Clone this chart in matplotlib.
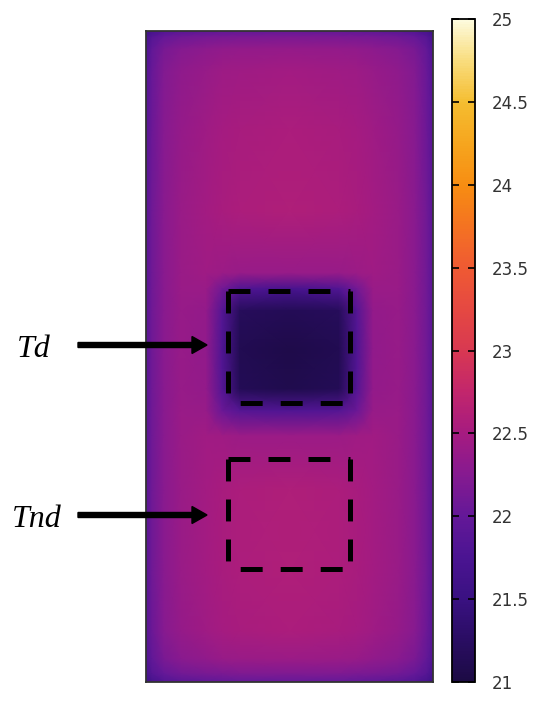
import numpy as np
import matplotlib
matplotlib.use("Agg")
import matplotlib.pyplot as plt
from matplotlib.colors import LinearSegmentedColormap
from matplotlib.patches import FancyArrow

plt.rcParams["lines.scale_dashes"] = False

# measurement grid over the sample (mm): left -> right, top -> bottom
x_nodes = [0, 0.6, 1.8, 3.5, 6.0, 7.6, 9.4, 14.35, 19.3, 21.1, 22.7, 25.2, 26.9, 28.1, 28.7]
y_nodes = [0, 0.6, 1.8, 4.0, 10.0, 18.0, 24.2, 25.8, 28.0, 31.8, 35.8, 38.0, 40.5,
           46.0, 54.0, 60.0, 62.8, 64.3, 65.1]

# temperature (deg C), one row per y node
temp = [
    [21.55, 21.68, 21.82, 21.90, 21.95, 21.97, 21.99, 22.00, 21.99, 21.97, 21.95, 21.90, 21.82, 21.68, 21.55],
    [21.68, 21.85, 22.00, 22.08, 22.13, 22.15, 22.17, 22.18, 22.17, 22.15, 22.13, 22.08, 22.00, 21.85, 21.68],
    [21.78, 21.97, 22.15, 22.24, 22.30, 22.33, 22.35, 22.37, 22.35, 22.33, 22.30, 22.24, 22.15, 21.97, 21.78],
    [21.83, 22.03, 22.22, 22.32, 22.39, 22.43, 22.45, 22.48, 22.45, 22.43, 22.39, 22.32, 22.22, 22.03, 21.83],
    [21.86, 22.06, 22.26, 22.37, 22.45, 22.49, 22.52, 22.55, 22.52, 22.49, 22.45, 22.37, 22.26, 22.06, 21.86],
    [21.88, 22.08, 22.28, 22.40, 22.48, 22.52, 22.55, 22.58, 22.55, 22.52, 22.48, 22.40, 22.28, 22.08, 21.88],
    [21.88, 22.08, 22.28, 22.40, 22.45, 22.42, 22.38, 22.38, 22.38, 22.42, 22.45, 22.40, 22.28, 22.08, 21.88],
    [21.88, 22.08, 22.28, 22.40, 22.40, 22.10, 21.80, 21.70, 21.80, 22.10, 22.40, 22.40, 22.28, 22.08, 21.88],
    [21.88, 22.08, 22.28, 22.39, 22.35, 21.85, 21.20, 21.15, 21.20, 21.85, 22.35, 22.39, 22.28, 22.08, 21.88],
    [21.88, 22.08, 22.28, 22.39, 22.33, 21.80, 21.12, 21.05, 21.12, 21.80, 22.33, 22.39, 22.28, 22.08, 21.88],
    [21.88, 22.08, 22.28, 22.39, 22.35, 21.85, 21.15, 21.08, 21.15, 21.85, 22.35, 22.39, 22.28, 22.08, 21.88],
    [21.88, 22.08, 22.28, 22.40, 22.38, 22.05, 21.85, 21.80, 21.85, 22.05, 22.38, 22.40, 22.28, 22.08, 21.88],
    [21.88, 22.08, 22.28, 22.40, 22.46, 22.45, 22.42, 22.42, 22.42, 22.45, 22.46, 22.40, 22.28, 22.08, 21.88],
    [21.88, 22.08, 22.28, 22.40, 22.48, 22.52, 22.55, 22.58, 22.55, 22.52, 22.48, 22.40, 22.28, 22.08, 21.88],
    [21.88, 22.08, 22.28, 22.40, 22.48, 22.52, 22.55, 22.58, 22.55, 22.52, 22.48, 22.40, 22.28, 22.08, 21.88],
    [21.86, 22.06, 22.26, 22.37, 22.45, 22.49, 22.52, 22.55, 22.52, 22.49, 22.45, 22.37, 22.26, 22.06, 21.86],
    [21.80, 21.98, 22.16, 22.27, 22.34, 22.38, 22.40, 22.42, 22.40, 22.38, 22.34, 22.27, 22.16, 21.98, 21.80],
    [21.68, 21.85, 22.00, 22.10, 22.15, 22.17, 22.19, 22.20, 22.19, 22.17, 22.15, 22.10, 22.00, 21.85, 21.68],
    [21.55, 21.68, 21.82, 21.90, 21.95, 21.97, 21.99, 22.00, 21.99, 21.97, 21.95, 21.90, 21.82, 21.68, 21.55],
]

# regions of interest (x0, x1, y0, y1) in mm
roi_names = ["Td", "Tnd"]
roi_boxes = [(8.2, 20.4, 26.0, 37.2), (8.2, 20.4, 42.8, 53.8)]

cbar_ticks = [21, 21.5, 22, 22.5, 23, 23.5, 24, 24.5, 25]
cbar_labels = ["21", "21.5", "22", "22.5", "23", "23.5", "24", "24.5", "25"]

cmap = LinearSegmentedColormap.from_list("thermo", [
    "#1c0b44", "#2a0d63", "#3a1182", "#4b1492", "#641898", "#861a90",
    "#a61b80", "#c2266c", "#d83852", "#e54842", "#ef5a33", "#f47222",
    "#f78d12", "#f6a51e", "#f5bd30", "#f9dc7c", "#fdfbdd"])

W, H = 550, 701
fig = plt.figure(figsize=(W / 100, H / 100), dpi=100)

ax = fig.add_axes([146 / W, 1 - 682 / H, 287 / W, 651 / H])
X, Y = np.meshgrid(x_nodes, y_nodes)
mesh = ax.pcolormesh(X, Y, np.array(temp), shading="gouraud", cmap=cmap, vmin=21, vmax=25)
ax.set_xlim(x_nodes[0], x_nodes[-1])
ax.set_ylim(y_nodes[-1], y_nodes[0])
ax.set_xticks([])
ax.set_yticks([])
for s in ax.spines.values():
    s.set_color("#333333")
    s.set_linewidth(1.3)

# dashed boxes, each side drawn on its own (dash 22 px, gap 18 px)
on, off = 15.8, 13.0
for x0, x1, y0, y1 in roi_boxes:
    kw = dict(color="black", lw=3.6, dash_capstyle="butt")
    ax.plot([x0, x1], [y0, y0], linestyle=(0, (on, off)), **kw)
    ax.plot([x0, x0], [y0, y1], linestyle=(0, (on, off)), **kw)
    ax.plot([x1, x1], [y0, y1], linestyle=(0, (on, off)), **kw)
    ax.plot([x0, x1], [y1, y1], linestyle=(20, (on, off)), **kw)

# labels and arrows on the left
label_pos = [(17, 357), (12, 527)]
arrow_y = [345, 515]
for name, (tx, ty), ay in zip(roi_names, label_pos, arrow_y):
    fig.text(tx / W, 1 - ty / H, name, fontsize=23, family="Liberation Serif",
             style="italic", ha="left", va="baseline")
    fig.add_artist(FancyArrow(78 / W, 1 - ay / H, (207 - 78) / W, 0,
                              width=5 / H, head_width=17 / H, head_length=15 / W,
                              length_includes_head=True, color="black",
                              transform=fig.transFigure))

cax = fig.add_axes([452 / W, 1 - 682 / H, 23 / W, 663 / H])
cb = fig.colorbar(mesh, cax=cax, ticks=cbar_ticks)
cb.ax.set_yticklabels(cbar_labels)
cb.outline.set_linewidth(1.3)
cb.outline.set_edgecolor("black")
cax.tick_params(direction="in", length=5, width=1.2, left=True, right=True,
                labelsize=12, labelcolor="#333333", pad=12)

fig.savefig("out.png", dpi=100)
